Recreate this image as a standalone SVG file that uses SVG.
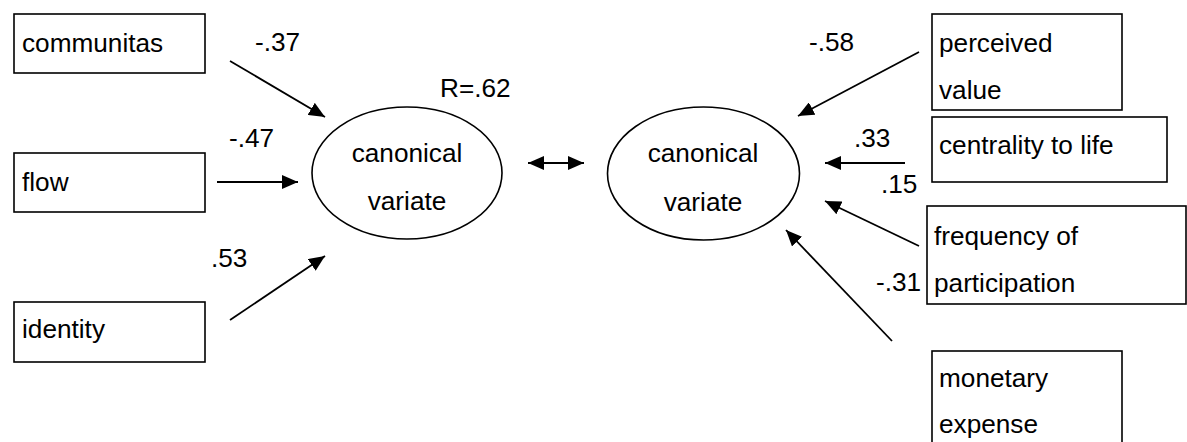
<svg xmlns="http://www.w3.org/2000/svg" width="1187" height="442" viewBox="0 0 1187 442">
  <style>
    .box { fill: #fff; stroke: #000; stroke-width: 1.6; }
    .oval { fill: #fff; stroke: #000; stroke-width: 1.6; }
    .lbl { font-family: "Liberation Sans", Arial, sans-serif; font-size: 26.2px; fill: #000; }
    .mid { text-anchor: middle; }
    .wire { stroke: #000; stroke-width: 1.8; fill: none; marker-end: url(#head); }
    .both { marker-start: url(#tail); }
  </style>
  <defs>
    <marker id="head" markerUnits="userSpaceOnUse" markerWidth="18" markerHeight="14" refX="16" refY="7" orient="auto">
      <path d="M0,0 L16,7 L0,14 z" fill="#000"/>
    </marker>
    <marker id="tail" markerUnits="userSpaceOnUse" markerWidth="18" markerHeight="14" refX="0" refY="7" orient="auto">
      <path d="M16,0 L0,7 L16,14 z" fill="#000"/>
    </marker>
  </defs>
  <rect width="1187" height="442" fill="#fff"/>

  <!-- left-side observed variables -->
  <g id="communitas">
    <rect class="box" x="14" y="14" width="191" height="59"/>
    <text class="lbl" x="22" y="52">communitas</text>
  </g>
  <g id="flow">
    <rect class="box" x="14" y="153" width="191" height="59"/>
    <text class="lbl" x="22" y="191">flow</text>
  </g>
  <g id="identity">
    <rect class="box" x="14" y="302" width="191" height="60"/>
    <text class="lbl" x="22" y="338">identity</text>
  </g>

  <!-- canonical variates -->
  <g id="variate-left">
    <ellipse class="oval" cx="407" cy="173" rx="95" ry="66"/>
    <text class="lbl mid" x="407" y="162">canonical</text>
    <text class="lbl mid" x="407" y="210">variate</text>
  </g>
  <g id="variate-right">
    <ellipse class="oval" cx="703.5" cy="173.5" rx="96" ry="66.5"/>
    <text class="lbl mid" x="703" y="162">canonical</text>
    <text class="lbl mid" x="703" y="211">variate</text>
  </g>

  <!-- right-side observed variables -->
  <g id="perceived-value">
    <rect class="box" x="932" y="14" width="190" height="96"/>
    <text class="lbl" x="939" y="52">perceived</text>
    <text class="lbl" x="939" y="99">value</text>
  </g>
  <g id="centrality">
    <rect class="box" x="932" y="117" width="235" height="65"/>
    <text class="lbl" x="939" y="154">centrality to life</text>
  </g>
  <g id="frequency">
    <rect class="box" x="927" y="206" width="259" height="98"/>
    <text class="lbl" x="934" y="245">frequency of</text>
    <text class="lbl" x="934" y="292">participation</text>
  </g>
  <g id="monetary">
    <rect class="box" x="932" y="351" width="190" height="100"/>
    <text class="lbl" x="939" y="387">monetary</text>
    <text class="lbl" x="939" y="433">expense</text>
  </g>

  <!-- paths and correlation -->
  <g id="connectors">
    <line class="wire" x1="230" y1="61" x2="325" y2="117"/>
    <line class="wire" x1="217" y1="182" x2="298" y2="182"/>
    <line class="wire" x1="230" y1="320" x2="325" y2="256"/>
    <line class="wire both" x1="528" y1="163" x2="584" y2="163"/>
    <line class="wire" x1="919" y1="52" x2="798" y2="116"/>
    <line class="wire" x1="905" y1="163" x2="825" y2="163"/>
    <line class="wire" x1="919" y1="246" x2="825" y2="201"/>
    <line class="wire" x1="892" y1="341" x2="786" y2="230"/>
  </g>

  <!-- coefficients -->
  <g id="coefficients">
    <text class="lbl" x="255" y="51">-.37</text>
    <text class="lbl" x="229" y="147">-.47</text>
    <text class="lbl" x="211" y="267">.53</text>
    <text class="lbl" x="440" y="97">R=.62</text>
    <text class="lbl" x="809" y="51">-.58</text>
    <text class="lbl" x="854" y="147">.33</text>
    <text class="lbl" x="881" y="193">.15</text>
    <text class="lbl" x="876" y="291">-.31</text>
  </g>
</svg>
